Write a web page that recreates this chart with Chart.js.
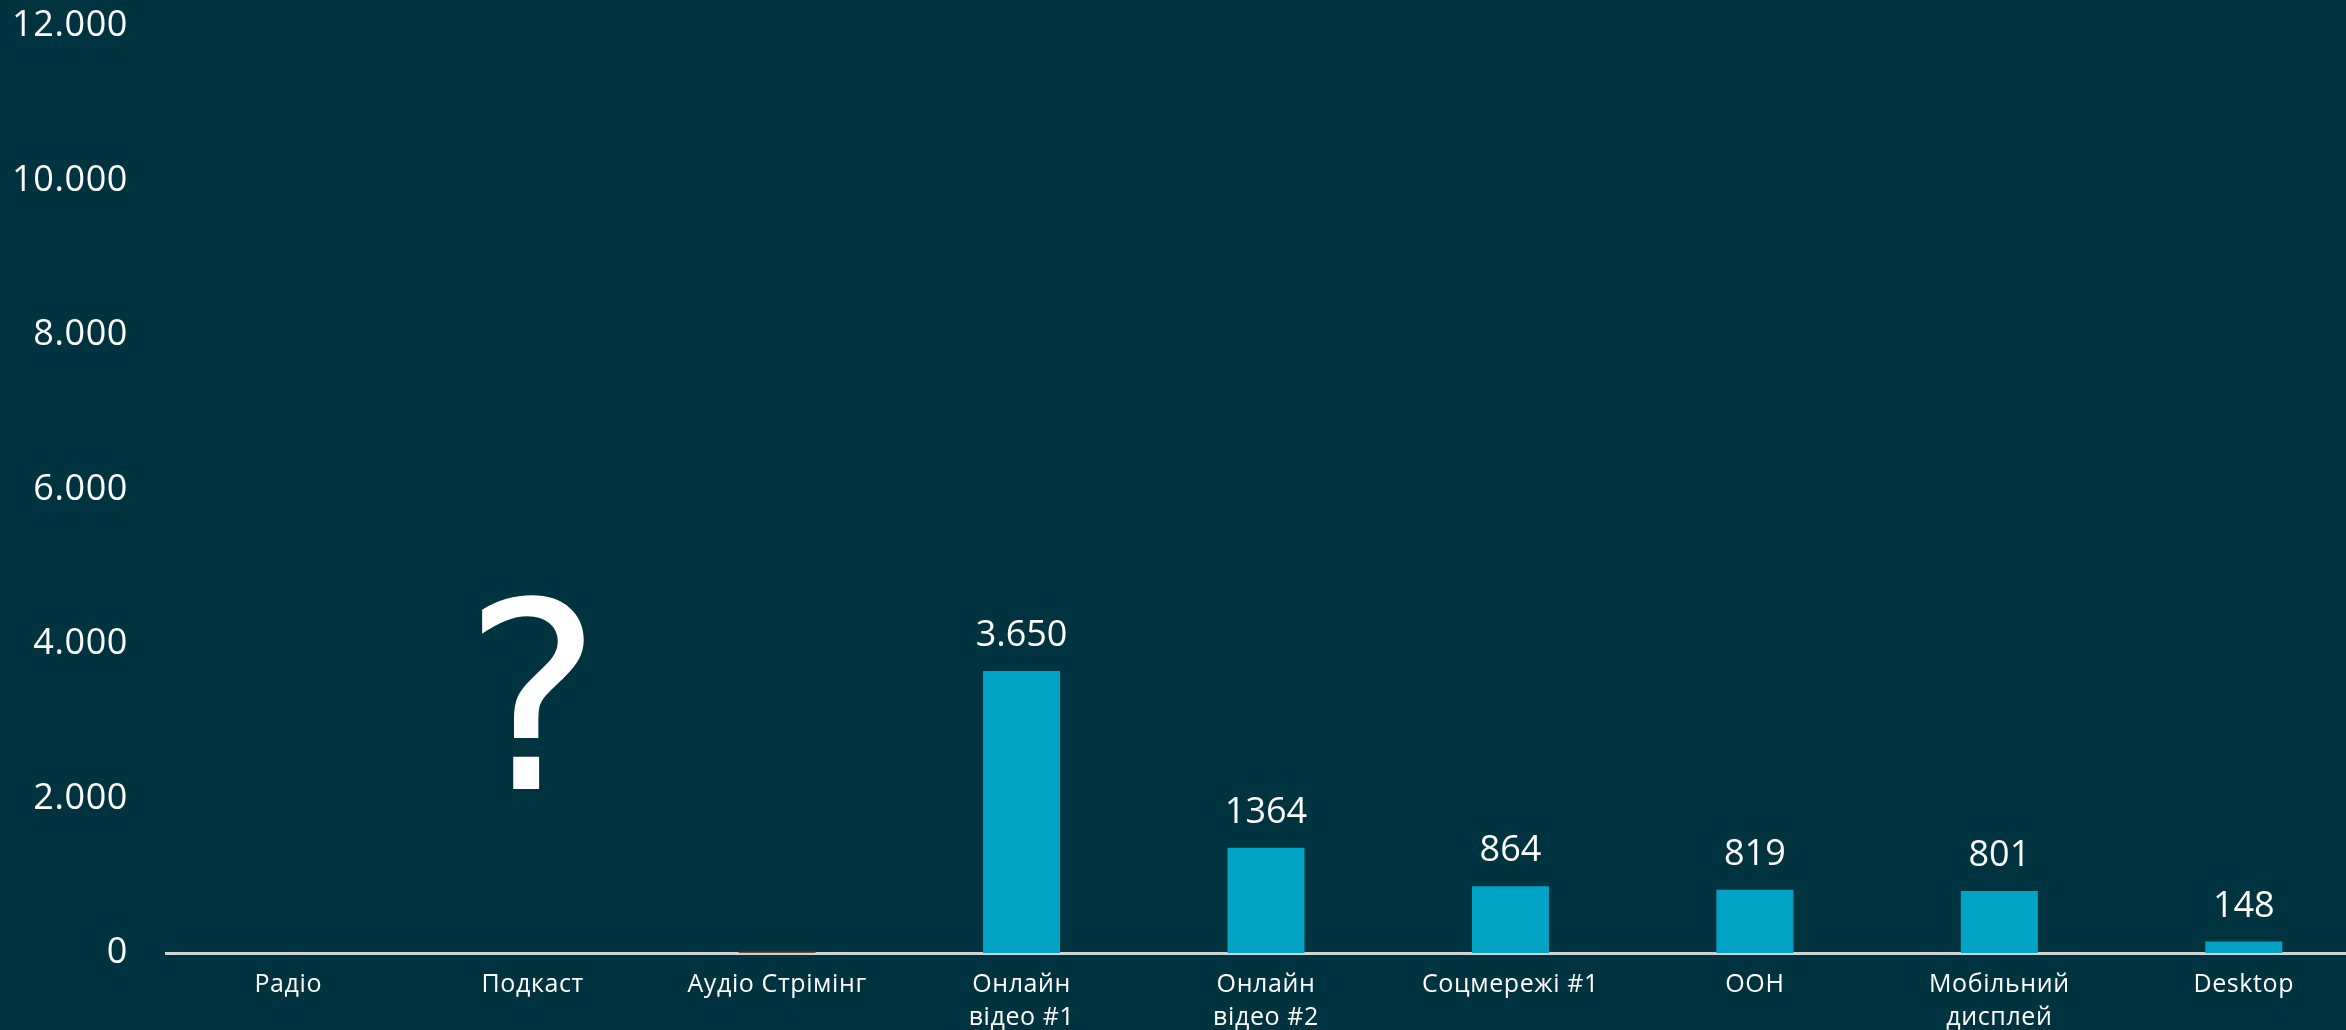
<!DOCTYPE html>
<html>
<head>
<meta charset="utf-8">
<script src="https://cdn.jsdelivr.net/npm/chart.js@4/dist/chart.umd.min.js"></script>
<style>
  html, body { margin: 0; padding: 0; background: #003340; overflow: hidden; }
  canvas { display: block; }
</style>
</head>
<body>
<canvas id="c" width="2366" height="1030"></canvas>
<script>
const categories = ['Радіо', 'Подкаст', 'Аудіо Стрімінг', ['Онлайн', 'відео #1'], ['Онлайн', 'відео #2'], 'Соцмережі #1', 'OOH', ['Мобільний', 'дисплей'], 'Desktop'];
const values = [0, null, 15, 3650, 1364, 864, 819, 801, 148];
const valueLabels = ['', '', '', '3.650', '1364', '864', '819', '801', '148'];
const barColors = ['#00a3c4', '#00a3c4', '#7d4a3e', '#00a3c4', '#00a3c4', '#00a3c4', '#00a3c4', '#00a3c4', '#00a3c4'];
const yTickValues = [0, 2000, 4000, 6000, 8000, 10000, 12000];
const yTickLabels = ['0', '2.000', '4.000', '6.000', '8.000', '10.000', '12.000'];
const unknownMarkCategory = 1;
const unknownMarkText = '?';
const unknownMarkBaseValue = 2123;

const overlay = {
  id: 'overlay',
  beforeDraw(chart) { chart.ctx.letterSpacing = '0.6px'; },
  beforeDatasetsDraw(chart) { chart.ctx.letterSpacing = '0px'; },
  afterDatasetsDraw(chart) {
    const ctx = chart.ctx;
    const meta = chart.getDatasetMeta(0);
    ctx.save();
    ctx.letterSpacing = '0px';
    ctx.fillStyle = '#ffffff';
    ctx.font = '36px "Open Sans"';
    ctx.textAlign = 'center';
    ctx.textBaseline = 'alphabetic';
    meta.data.forEach((bar, i) => {
      const t = valueLabels[i];
      if (!t) return;
      ctx.fillText(t, bar.x, bar.y - 25);
    });
    const xs = chart.scales.x, ys = chart.scales.y;
    ctx.font = '261px "DejaVu Sans"';
    ctx.fillText(unknownMarkText, xs.getPixelForValue(unknownMarkCategory), ys.getPixelForValue(unknownMarkBaseValue));
    ctx.restore();
  },
  afterDraw(chart) { chart.ctx.letterSpacing = '0px'; }
};

new Chart(document.getElementById('c'), {
  type: 'bar',
  data: {
    labels: categories,
    datasets: [{
      data: values,
      backgroundColor: barColors,
      borderWidth: 0,
      categoryPercentage: 1,
      barPercentage: 0.315
    }]
  },
  options: {
    responsive: false,
    animation: false,
    layout: { padding: 0 },
    plugins: { legend: { display: false }, tooltip: { enabled: false } },
    scales: {
      x: {
        afterFit(scale) { scale.height = 77; },
        grid: { display: false, drawTicks: false },
        border: { display: true, color: '#cfd3d4', width: 3 },
        ticks: {
          color: '#ffffff',
          font: { family: '"Open Sans"', size: 25, lineHeight: 1.3 },
          padding: 16,
          maxRotation: 0,
          autoSkip: false
        }
      },
      y: {
        z: 1,
        min: 0,
        max: 12000,
        afterBuildTicks(scale) { scale.ticks = yTickValues.map(v => ({ value: v })); },
        afterFit(scale) { scale.width = 166; scale.paddingTop = 26; scale.paddingBottom = 0; },
        grid: { display: false, drawTicks: false },
        border: { display: false },
        ticks: {
          color: '#ffffff',
          font: { family: '"Open Sans"', size: 36 },
          padding: 38,
          callback: (v) => yTickLabels[yTickValues.indexOf(v)]
        }
      }
    }
  },
  plugins: [overlay]
});
</script>
</body>
</html>
